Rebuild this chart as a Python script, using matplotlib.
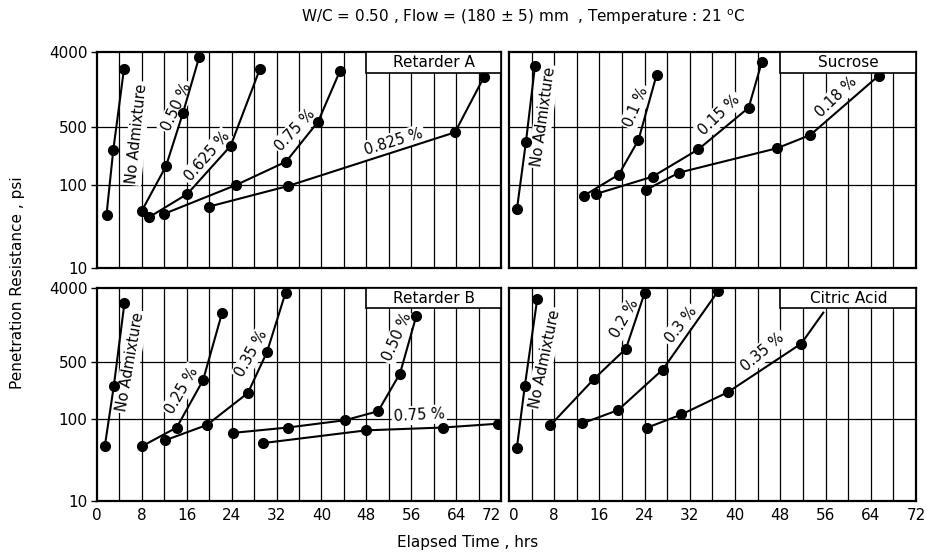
import numpy as np
import matplotlib.pyplot as plt
from matplotlib.patches import Rectangle

# ---- data (hours, psi) ----
# Retarder A
ra_none_t = [1.7, 2.9, 4.8]
ra_none_p = [44, 264, 2470]
ra_050_t = [8.0, 12.3, 15.3, 18.2]
ra_050_p = [49, 169, 730, 3450]
ra_0625_t = [9.3, 16.1, 23.8, 29.0]
ra_0625_p = [41, 78, 295, 2470]
ra_075_t = [12.0, 24.8, 33.7, 39.4, 43.3]
ra_075_p = [45, 100, 191, 579, 2360]
ra_0825_t = [20.0, 34.0, 63.8, 69.0]
ra_0825_p = [55, 97, 431, 2020]

# Sucrose
su_none_t = [1.4, 3.0, 4.6]
su_none_p = [51, 332, 2740]
su_010_t = [13.2, 19.4, 22.9, 26.1]
su_010_p = [74, 133, 348, 2110]
su_015_t = [15.4, 25.4, 33.5, 42.4, 44.7]
su_015_p = [78, 126, 269, 854, 3000]
su_018_t = [24.2, 30.1, 47.4, 53.3, 65.4]
su_018_p = [87, 141, 277, 400, 2075]

# Retarder B
rb_none_t = [1.4, 3.0, 4.9]
rb_none_p = [47, 255, 2650]
rb_025_t = [8.1, 14.2, 18.9, 22.3]
rb_025_p = [47, 79, 299, 2000]
rb_035_t = [12.1, 19.6, 26.9, 30.3, 33.6]
rb_035_p = [55, 85, 209, 662, 3500]
rb_050_t = [24.3, 34.0, 44.2, 50.1, 54.0, 56.9]
rb_050_p = [68, 79, 97, 125, 361, 1820]
rb_075_t = [29.6, 48.0, 61.7, 71.5]
rb_075_p = [51, 73, 79, 88]

# Citric acid (last point of 0.35 % is the line end, no marker)
ca_none_t = [1.4, 2.8, 5.0]
ca_none_p = [45, 255, 2960]
ca_020_t = [7.3, 15.1, 20.7, 24.0]
ca_020_p = [84, 313, 728, 3500]
ca_030_t = [13.0, 19.3, 27.2, 37.0]
ca_030_p = [89, 129, 404, 3670]
ca_035_t = [24.5, 30.5, 38.7, 51.7, 55.6]
ca_035_p = [79, 114, 213, 837, 2000]

x_ticks = [0, 8, 16, 24, 32, 40, 48, 56, 64, 72]
y_ticks = [10, 100, 500, 4000]

# (x, y, text, angle)
labels_ra = [(7.1, 420, "No Admixture", 84), (14.2, 880, "0.50 %", 65),
             (19.6, 219, "0.625 %", 49), (35.4, 460, "0.75 %", 47),
             (52.9, 332, "0.825 %", 17)]
labels_su = [(6.1, 665, "No Admixture", 82), (22.5, 880, "0.1 %", 67),
             (37.2, 697, "0.15 %", 44), (57.9, 1158, "0.18 %", 44)]
labels_rb = [(6.0, 500, "No Admixture", 80), (15.1, 226, "0.25 %", 60),
             (27.6, 632, "0.35 %", 61), (53.5, 1004, "0.50 %", 66),
             (57.4, 112, "0.75 %", 3)]
labels_ca = [(6.3, 550, "No Admixture", 78), (20.4, 1690, "0.2 %", 60),
             (30.4, 1400, "0.3 %", 52), (44.9, 662, "0.35 %", 40)]

W, H = 926, 559
fig = plt.figure(figsize=(9.26, 5.59), dpi=100)


def make_ax(x0, x1, y0, y1):
    return fig.add_axes([x0 / W, 1 - y1 / H, (x1 - x0) / W, (y1 - y0) / H])


ax_ra = make_ax(97, 501, 52, 268)
ax_su = make_ax(509, 916, 52, 268)
ax_rb = make_ax(97, 501, 288, 501)
ax_ca = make_ax(509, 916, 288, 501)

panels = [
    (ax_ra, "Retarder A", [(ra_none_t, ra_none_p), (ra_050_t, ra_050_p), (ra_0625_t, ra_0625_p),
                           (ra_075_t, ra_075_p), (ra_0825_t, ra_0825_p)], labels_ra),
    (ax_su, "Sucrose", [(su_none_t, su_none_p), (su_010_t, su_010_p), (su_015_t, su_015_p),
                        (su_018_t, su_018_p)], labels_su),
    (ax_rb, "Retarder B", [(rb_none_t, rb_none_p), (rb_025_t, rb_025_p), (rb_035_t, rb_035_p),
                           (rb_050_t, rb_050_p), (rb_075_t, rb_075_p)], labels_rb),
    (ax_ca, "Citric Acid", [(ca_none_t, ca_none_p), (ca_020_t, ca_020_p), (ca_030_t, ca_030_p)],
     labels_ca),
]

for ax, name, series, labs in panels:
    ax.set_yscale("log")
    ax.set_xlim(0, 72)
    ax.set_ylim(10, 4000)
    for v in range(4, 72, 4):
        ax.axvline(v, color="black", lw=0.9, zorder=1)
    for h in (100, 500):
        ax.axhline(h, color="black", lw=0.9, zorder=1)

    for t, p in series:
        ax.plot(t, p, color="black", lw=1.5, marker="o", ms=7, zorder=3)

    for x, y, s, a in labs:
        ax.text(x, y, s, rotation=a, ha="center", va="center", fontsize=10.5,
                rotation_mode="anchor", zorder=2,
                bbox=dict(facecolor="white", edgecolor="none", pad=1.5))

    ax.add_patch(Rectangle((0.665, 0.905), 0.335, 0.095, transform=ax.transAxes,
                           facecolor="white", edgecolor="black", lw=1.2, zorder=4))
    ax.text(0.835, 0.952, name, transform=ax.transAxes, ha="center", va="center",
            fontsize=11, zorder=5)

    ax.set_xticks(x_ticks)
    ax.set_yticks(y_ticks)
    ax.yaxis.set_minor_locator(plt.NullLocator())
    ax.tick_params(axis="x", length=0, labelsize=11, pad=5)
    ax.tick_params(axis="y", length=4, width=1, labelsize=11, pad=3)
    for sp in ax.spines.values():
        sp.set_linewidth(1.6)

# citric acid 0.35 %: markers on measured points, line runs on to the last point
ax_ca.plot(ca_035_t, ca_035_p, color="black", lw=1.5, zorder=3)
ax_ca.plot(ca_035_t[:-1], ca_035_p[:-1], color="black", lw=0, marker="o", ms=7, zorder=3)

for ax in (ax_ra, ax_rb):
    ax.set_yticklabels([str(v) for v in y_ticks])
for ax in (ax_su, ax_ca):
    ax.set_yticklabels([])
    ax.tick_params(axis="y", length=0)
for ax in (ax_ra, ax_su):
    ax.set_xticklabels([])
for ax in (ax_rb, ax_ca):
    ax.set_xticklabels([str(v) for v in x_ticks])

# keep "72" of the left panel and "0" of the right panel apart
ax_rb.get_xticklabels()[-1].set_horizontalalignment("right")
ax_ca.get_xticklabels()[0].set_horizontalalignment("left")

fig.text(523 / W, 1 - 17 / H, "W/C = 0.50 , Flow = (180 ± 5) mm  , Temperature : 21 $^{\\mathrm{o}}$C",
         ha="center", va="center", fontsize=11)
fig.text(18 / W, 1 - 283 / H, "Penetration Resistance , psi", rotation=90,
         ha="center", va="center", fontsize=11)
fig.text(468 / W, 1 - 542 / H, "Elapsed Time , hrs", ha="center", va="center", fontsize=11)

fig.savefig("out.png", dpi=100)
